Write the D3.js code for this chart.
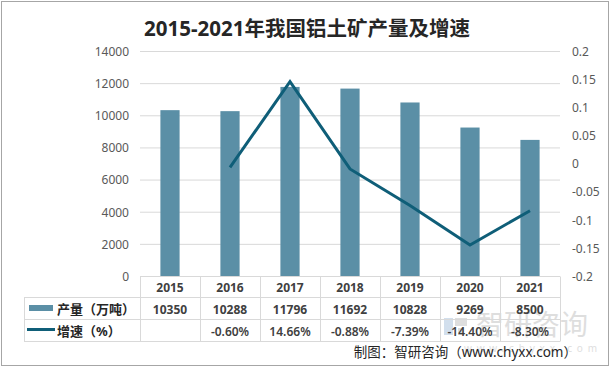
<!DOCTYPE html>
<html>
<head>
<meta charset="utf-8">
<script src="https://d3js.org/d3.v7.min.js"></script>
<style>
  body { margin: 0; background: #fff; }
  svg text { font-family: "Noto Sans", "Noto Sans CJK SC", sans-serif; }
</style>
</head>
<body>
<div id="chart"></div>
<script>
  // data
  var years = ["2015", "2016", "2017", "2018", "2019", "2020", "2021"];
  var output = [10350, 10288, 11796, 11692, 10828, 9269, 8500];
  var growth = [null, -0.006, 0.1466, -0.0088, -0.0739, -0.144, -0.083];
  var growthLabels = ["", "-0.60%", "14.66%", "-0.88%", "-7.39%", "-14.40%", "-8.30%"];
  var leftTicks = [0, 2000, 4000, 6000, 8000, 10000, 12000, 14000];
  var rightTicks = [-0.2, -0.15, -0.1, -0.05, 0, 0.05, 0.1, 0.15, 0.2];

  var width = 613, height = 373;
  var barColor = "#5b8fa6", lineColor = "#0f5e78", gridColor = "#d9d9d9";

  var svg = d3.select("#chart").append("svg")
    .attr("width", width)
    .attr("height", height);

  // outer border
  svg.append("rect")
    .attr("x", 1.5).attr("y", 1.5)
    .attr("width", 607).attr("height", 364)
    .attr("fill", "#fff")
    .attr("stroke", "#a6a6a6");

  // title
  svg.append("text")
    .attr("x", 307).attr("y", 36)
    .attr("text-anchor", "middle")
    .attr("font-size", 20.5)
    .attr("font-weight", "bold")
    .attr("fill", "#262626")
    .text("2015-2021年我国铝土矿产量及增速");

  var x = d3.scaleBand().domain(years).range([140, 560])
    .paddingInner(0.68).paddingOuter(0.34);
  var yL = d3.scaleLinear().domain([0, 14000]).range([276.5, 51.5]);
  var yR = d3.scaleLinear().domain([-0.2, 0.2]).range([276.5, 51.5]);

  // gridlines
  svg.append("g").selectAll("line")
    .data(leftTicks)
    .enter().append("line")
    .attr("x1", 140).attr("x2", 560)
    .attr("y1", function(d){ return yL(d); })
    .attr("y2", function(d){ return yL(d); })
    .attr("stroke", gridColor);

  // axes
  var axL = svg.append("g")
    .attr("transform", "translate(140,0)")
    .call(d3.axisLeft(yL).tickValues(leftTicks).tickSize(0).tickPadding(11)
      .tickFormat(d3.format("d")));
  var axR = svg.append("g")
    .attr("transform", "translate(560,0)")
    .call(d3.axisRight(yR).tickValues(rightTicks).tickSize(0).tickPadding(12)
      .tickFormat(function(d){ return String(+d.toFixed(2)); }));
  [axL, axR].forEach(function(ax){
    ax.select(".domain").remove();
    ax.selectAll("text")
      .attr("font-size", 12)
      .attr("fill", "#595959")
      .style("font-family", "'Noto Sans', sans-serif");
  });

  // bars
  svg.append("g").selectAll("rect")
    .data(output)
    .enter().append("rect")
    .attr("x", function(d, i){ return x(years[i]); })
    .attr("y", function(d){ return yL(d); })
    .attr("width", x.bandwidth())
    .attr("height", function(d){ return yL(0) - yL(d); })
    .attr("fill", barColor);

  // line
  var line = d3.line()
    .defined(function(d){ return d != null; })
    .x(function(d, i){ return x(years[i]) + x.bandwidth() / 2; })
    .y(function(d){ return yR(d); });
  svg.append("path")
    .datum(growth)
    .attr("d", line)
    .attr("fill", "none")
    .attr("stroke", lineColor)
    .attr("stroke-width", 3)
    .attr("stroke-linejoin", "miter");

  // watermark
  var wm = svg.append("g").attr("opacity", 0.28);
  wm.append("rect").attr("x", 444).attr("y", 318).attr("width", 9).attr("height", 17).attr("fill", "#5f8fbf");
  wm.append("rect").attr("x", 455).attr("y", 318).attr("width", 12).attr("height", 8).attr("fill", "#8a8a8a");
  wm.append("rect").attr("x", 458).attr("y", 328).attr("width", 6).attr("height", 7).attr("fill", "#8a8a8a");
  wm.append("text")
    .attr("x", 476).attr("y", 335)
    .attr("font-size", 28)
    .attr("fill", "#8a8a8a")
    .text("智研咨询");
  wm.append("text")
    .attr("x", 464).attr("y", 352)
    .attr("font-size", 10)
    .attr("letter-spacing", 4.8)
    .attr("fill", "#8a8a8a")
    .text("www.chyxx.com");

  // data table
  var rowY = [276.5, 297.5, 319.5, 341.5];
  var table = svg.append("g");
  table.selectAll("line.h")
    .data(rowY)
    .enter().append("line")
    .attr("x1", function(d, i){ return i == 0 ? 140 : 24; })
    .attr("x2", 560)
    .attr("y1", function(d){ return d; })
    .attr("y2", function(d){ return d; })
    .attr("stroke", gridColor);
  var colX = [140].concat(years.map(function(y){ return x(y) - x.step() * x.paddingInner() / 2 + x.step(); }));
  table.selectAll("line.v")
    .data(colX)
    .enter().append("line")
    .attr("x1", function(d){ return Math.round(d) + 0.5; })
    .attr("x2", function(d){ return Math.round(d) + 0.5; })
    .attr("y1", rowY[0]).attr("y2", rowY[3])
    .attr("stroke", gridColor);
  table.append("line")
    .attr("x1", 24.5).attr("x2", 24.5)
    .attr("y1", rowY[1]).attr("y2", rowY[3])
    .attr("stroke", gridColor);

  var cx = function(i){ return x(years[i]) + x.bandwidth() / 2; };
  table.selectAll("text.yr")
    .data(years)
    .enter().append("text")
    .attr("x", function(d, i){ return cx(i); })
    .attr("y", 292)
    .attr("text-anchor", "middle")
    .attr("font-size", 12).attr("font-weight", "bold").attr("fill", "#404040")
    .text(function(d){ return d; });
  table.selectAll("text.out")
    .data(output)
    .enter().append("text")
    .attr("x", function(d, i){ return cx(i); })
    .attr("y", 313.5)
    .attr("text-anchor", "middle")
    .attr("font-size", 12).attr("font-weight", "bold").attr("fill", "#404040")
    .text(function(d){ return d; });
  table.selectAll("text.gr")
    .data(growthLabels)
    .enter().append("text")
    .attr("x", function(d, i){ return cx(i); })
    .attr("y", 335.5)
    .attr("text-anchor", "middle")
    .attr("font-size", 12).attr("font-weight", 600).attr("fill", "#404040")
    .text(function(d){ return d; });

  // legend keys in the table
  table.append("rect")
    .attr("x", 29).attr("y", 305).attr("width", 24).attr("height", 6)
    .attr("fill", barColor);
  table.append("text")
    .attr("x", 57).attr("y", 313.5)
    .attr("font-size", 13).attr("font-weight", "bold").attr("fill", "#262626")
    .text("产量（万吨）");
  table.append("line")
    .attr("x1", 27).attr("x2", 55).attr("y1", 329.5).attr("y2", 329.5)
    .attr("stroke", lineColor).attr("stroke-width", 3);
  table.append("text")
    .attr("x", 57).attr("y", 335.5)
    .attr("font-size", 13).attr("font-weight", "bold").attr("fill", "#262626")
    .text("增速（%）");

  // source
  svg.append("text")
    .attr("x", 577).attr("y", 357)
    .attr("text-anchor", "end")
    .attr("font-size", 13.5)
    .attr("fill", "#262626")
    .text("制图：智研咨询（www.chyxx.com）");
</script>
</body>
</html>
